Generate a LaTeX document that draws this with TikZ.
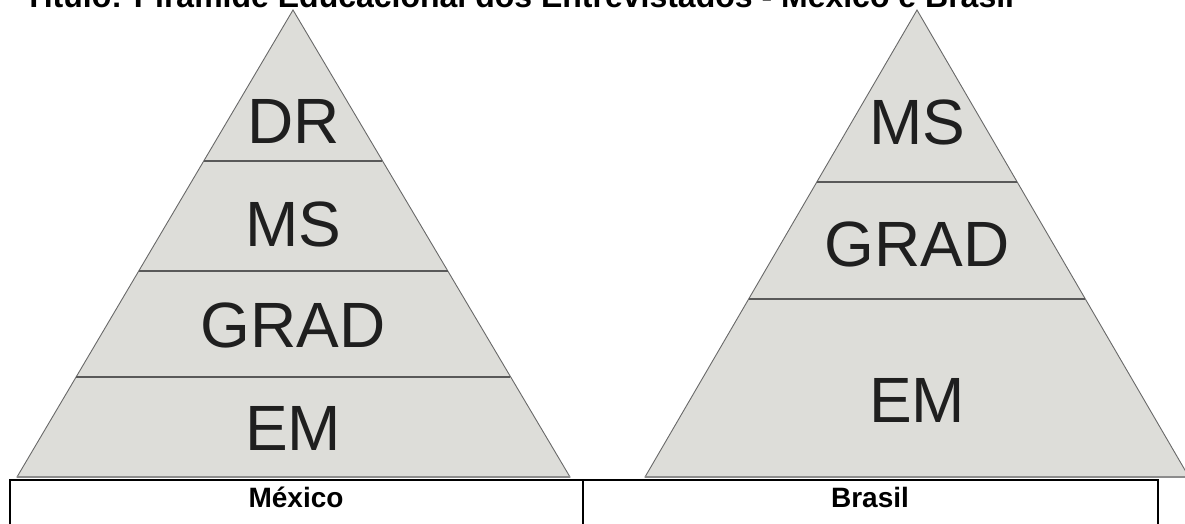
\documentclass[tikz,border=0pt]{standalone}
\usepackage{fontspec}
\setmainfont{Liberation Sans}
\usepackage{xcolor}
\usepackage{tikz}
\definecolor{pygray}{RGB}{221,221,217}
\definecolor{pyedge}{RGB}{105,105,105}
\tikzset{
  pyfill/.style={fill=pygray, draw=pyedge, line width=0.9pt, line join=miter},
  pydiv/.style={line width=1.3pt, draw=black!65, line cap=butt},
  pybase/.style={line width=2.6pt, draw=black!45, line cap=butt},
  tbline/.style={line width=2.6pt, draw=black, line cap=rect},
  pylabel/.style={font=\fontsize{64}{70}\selectfont, text=black!88, inner sep=0pt},
  tblabel/.style={font=\fontsize{28}{32}\selectfont\bfseries, inner sep=0pt},
}
\begin{document}
\begin{tikzpicture}[x=1pt,y=-1pt]
\useasboundingbox (0,0) rectangle (1185,524);
\clip (0,0) rectangle (1185,524);
\fill[white] (0,0) rectangle (1185,524);
% title (cut at the top)
\node[anchor=base west, inner sep=0pt, font=\fontsize{32}{38}\selectfont\bfseries] (title) at (24,8)
  {Título: Pirâmide Educacional dos Entrevistados - México e Brasil};
% pyramid Mexico
\draw[pyfill] (293.0,10.0) -- (570.0,477.0) -- (17.0,477.0) -- cycle;
\draw[pydiv] (203.6,161.0) -- (382.4,161.0);
\draw[pydiv] (138.5,271.0) -- (447.5,271.0);
\draw[pydiv] (75.7,377.0) -- (510.3,377.0);
\draw[pybase] (17.0,477.0) -- (570.0,477.0);
\node[pylabel] (mxdr) at (294,121) {DR};
\node[pylabel] (mxms) at (293,224) {MS};
\node[pylabel] (mxgrad) at (293,325) {GRAD};
\node[pylabel] (mxem) at (293,428) {EM};
% pyramid Brasil
\draw[pyfill] (917.0,10.0) -- (1189.0,477.0) -- (645.0,477.0) -- cycle;
\draw[pydiv] (816.8,182.0) -- (1017.2,182.0);
\draw[pydiv] (748.7,299.0) -- (1085.3,299.0);
\draw[pybase] (645.0,477.0) -- (1189.0,477.0);
\node[pylabel] (brms) at (917,122) {MS};
\node[pylabel] (brgrad) at (917,244) {GRAD};
\node[pylabel] (brem) at (917,400) {EM};
% table
\draw[tbline] (10,530) -- (10,480) -- (1158,480) -- (1158,530);
\draw[tbline] (583,480) -- (583,530);
\node[tblabel] (mexico) at (296,497) {México};
\node[tblabel] (brasil) at (870,497) {Brasil};
\end{tikzpicture}
\end{document}
